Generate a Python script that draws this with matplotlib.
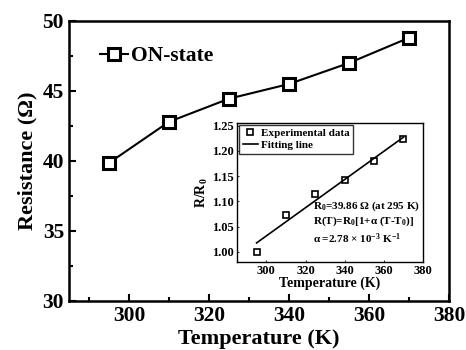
import numpy as np
import matplotlib.pyplot as plt

plt.rcParams['font.family'] = ['Liberation Serif', 'DejaVu Serif']
plt.rcParams['font.weight'] = 'bold'
plt.rcParams['mathtext.fontset'] = 'custom'
plt.rcParams['mathtext.rm'] = 'Liberation Serif:bold'
plt.rcParams['mathtext.it'] = 'Liberation Serif:bold'

# data
temperature = [295, 310, 325, 340, 355, 370]
resistance = [39.86, 42.8, 44.45, 45.5, 47.0, 48.8]
r0 = 39.86
ratio = [r / r0 for r in resistance]

main_xticks = [300, 320, 340, 360, 380]
main_yticks = [30, 35, 40, 45, 50]
inset_yticks = [1.00, 1.05, 1.10, 1.15, 1.20, 1.25]

fig = plt.figure(figsize=(4.66, 3.5), dpi=100)
ax = fig.add_axes([0.148, 0.14, 0.8155, 0.80])

ax.plot(temperature, resistance, color='black', lw=1.5, marker='s', ms=9,
        mfc='white', mec='black', mew=2.2, label='ON-state')
ax.set_xlim(285, 380)
ax.set_ylim(30, 50)
ax.set_xticks(main_xticks)
ax.set_xticks(np.arange(290, 381, 10), minor=True)
ax.set_yticks(main_yticks)
ax.set_yticks(np.arange(30, 50.1, 2.5), minor=True)
ax.tick_params(which='both', direction='in', width=1.5, labelsize=15.5)
ax.tick_params(which='major', length=5)
ax.tick_params(which='minor', length=3)
for s in ax.spines.values():
    s.set_linewidth(1.8)
ax.set_xlabel('Temperature (K)', fontsize=16, fontweight='bold', labelpad=2)
ax.set_ylabel('Resistance (Ω)', fontsize=16, fontweight='bold', labelpad=4)
ax.legend(loc='upper left', frameon=False, fontsize=15.5, handlelength=1.3,
          handletextpad=0.15, borderaxespad=0.5, bbox_to_anchor=(0.03, 0.98))

# inset
ins = fig.add_axes([0.5086, 0.2514, 0.3991, 0.3972])
ins.plot(temperature, ratio, ls='none', marker='s', ms=4, mfc='white',
         mec='black', mew=1.2, label='Experimental data')
k, b = np.polyfit(temperature, ratio, 1)
fit_t = np.array([temperature[0], temperature[-1]])
ins.plot(fit_t, k * fit_t + b, color='black', lw=1.2, label='Fitting line')
ins.set_xlim(285, 380)
ins.set_ylim(0.98, 1.255)
ins.set_xticks(main_xticks)
ins.set_yticks(inset_yticks)
ins.set_yticklabels([f'{v:.2f}' for v in inset_yticks])
ins.tick_params(direction='in', length=1.5, width=0.6, labelsize=9, pad=2)
for s in ins.spines.values():
    s.set_linewidth(1.0)
ins.set_xlabel('Temperature (K)', fontsize=10, fontweight='bold', labelpad=0)
ins.set_ylabel('R/R$_0$', fontsize=10, fontweight='bold', labelpad=2)
leg = ins.legend(loc='upper left', fontsize=8, frameon=True, fancybox=False,
                 edgecolor='black', handlelength=1.4, handletextpad=0.3,
                 borderpad=0.3, labelspacing=0.2, borderaxespad=0.2)
leg.get_frame().set_linewidth(1.0)
ins.text(0.41, 0.40, 'R$_0$=39.86 Ω (at 295 K)', transform=ins.transAxes,
         fontsize=8, va='center')
ins.text(0.41, 0.29, 'R(T)=R$_0$[1+α (T-T$_0$)]', transform=ins.transAxes,
         fontsize=8, va='center')
ins.text(0.41, 0.17, 'α =2.78 × 10$^{-3}$ K$^{-1}$', transform=ins.transAxes,
         fontsize=8, va='center')

fig.savefig('out.png', dpi=100)
